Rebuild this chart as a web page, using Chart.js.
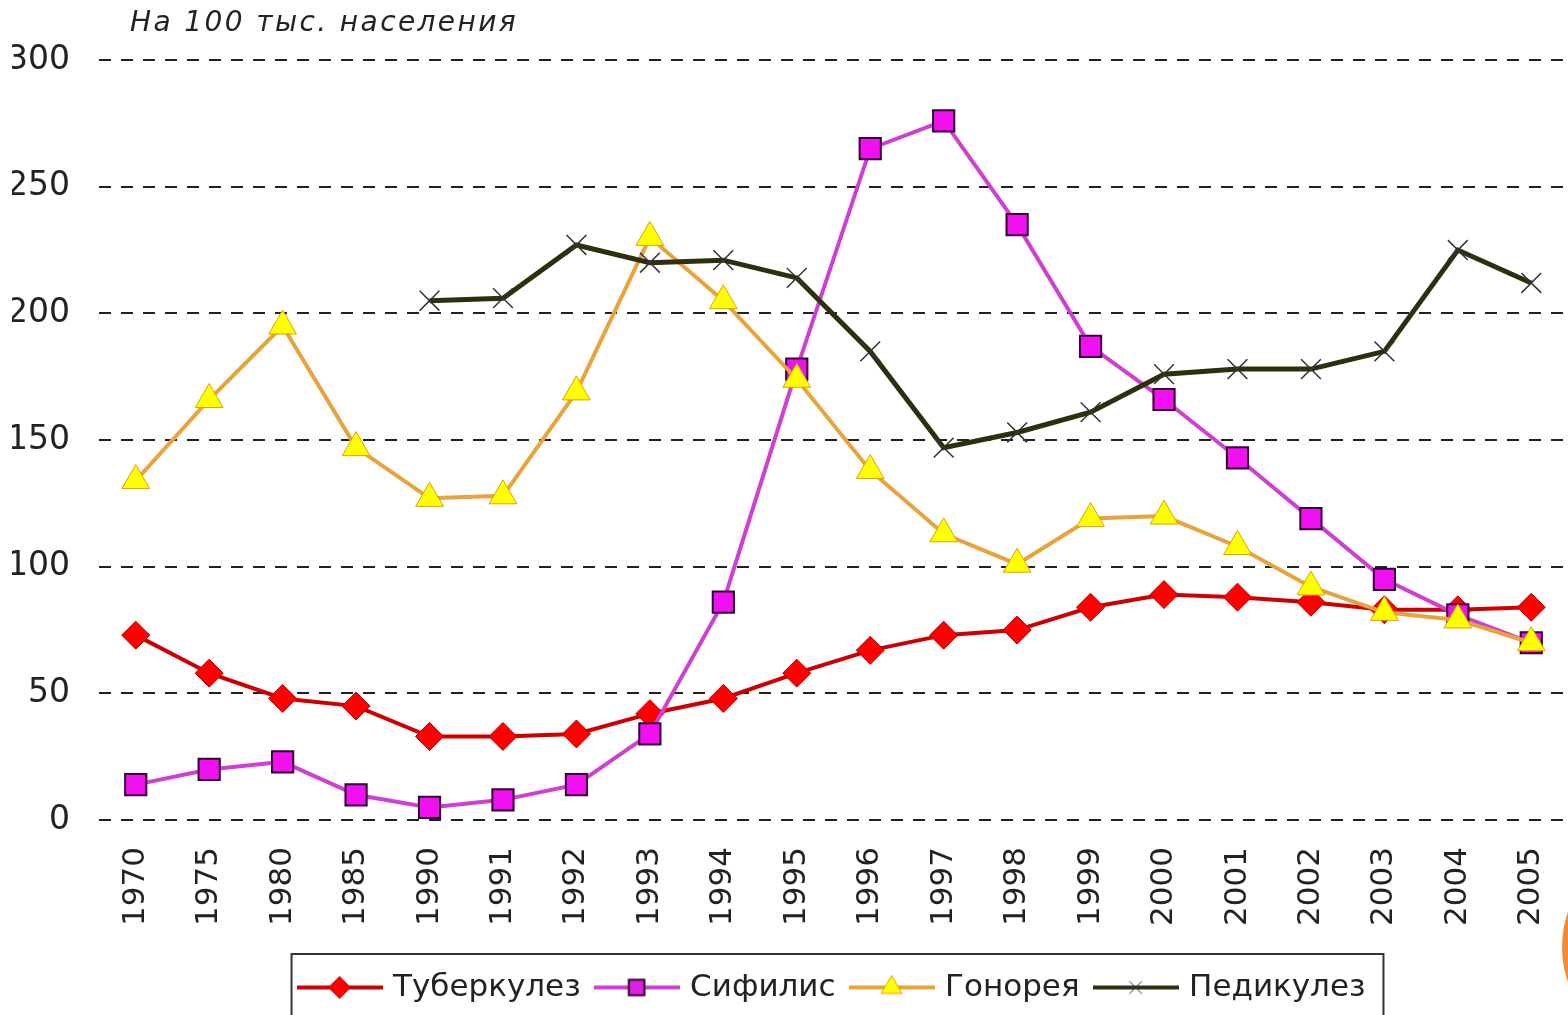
<!DOCTYPE html>
<html>
<head>
<meta charset="utf-8">
<script src="https://cdn.jsdelivr.net/npm/chart.js@4.4.1/dist/chart.umd.min.js"></script>
<style>
body{margin:0;background:#fff;}
#wrap{position:relative;width:1568px;height:1015px;overflow:hidden;}
#dot{position:absolute;left:1562px;top:839px;width:216px;height:216px;border-radius:50%;background:#F58A35;}
</style>
</head>
<body>
<div id="wrap"><canvas id="myChart"></canvas><div id="dot"></div></div>
<script>
// years on the x axis
const years = ['1970','1975','1980','1985','1990','1991','1992','1993','1994','1995',
	'1996','1997','1998','1999','2000','2001','2002','2003','2004','2005'];

// per 100k population
const tuberculosis = [73, 58, 48, 45, 33, 33, 34, 42, 48, 58, 67, 73, 75, 84, 89, 88, 86, 83, 83, 84];
const syphilis     = [14, 20, 23, 10, 5, 8, 14, 34, 86, 178, 265, 276, 235, 187, 166, 143, 119, 95, 81, 70];
const gonorrhea    = [134, 166, 195, 147, 127, 128, 169, 230, 205, 174, 138, 113, 101, 119, 120, 108, 92, 82, 79, 70];
const pediculosis  = [null, null, null, null, 205, 206, 227, 220, 221, 214, 185, 147, 153, 161, 176, 178, 178, 185, 225, 212];

const yTicks = [0, 50, 100, 150, 200, 250, 300];

const FONT = "'DejaVu Sans', sans-serif";

function legendImg(lineColor, style, fill, border, radius, bw){
	let c = document.createElement('canvas');
	c.width = 86; c.height = 30;
	let g = c.getContext('2d');
	g.strokeStyle = lineColor;
	g.lineWidth = 4;
	g.beginPath(); g.moveTo(0, 15); g.lineTo(86, 15); g.stroke();
	g.fillStyle = fill;
	g.strokeStyle = border;
	g.lineWidth = bw;
	Chart.helpers.drawPoint(g, {pointStyle: style, radius: radius, rotation: 0}, 43, 15);
	g.fill();
	if(bw > 0) g.stroke();
	return c;
}

const legendImages = [
	legendImg('#CC0000', 'rectRot', '#FF0000', '#B00000', 11, 1),
	legendImg('#D040D0', 'rect', '#E020E0', '#330033', 11, 2),
	legendImg('#E8A33A', 'triangle', '#FFFF00', '#E0A000', 12, 1),
	legendImg('#2F2F10', 'crossRot', '#2F2F10', '#333', 9, 1)
];

// subtitle above the plot
const subtitlePlugin = {
	id: 'subtitleText',
	afterDraw(chart){
		let ctx = chart.ctx;
		ctx.save();
		ctx.font = "italic 28px " + FONT;
		ctx.letterSpacing = '2.4px';
		ctx.fillStyle = '#222';
		ctx.textBaseline = 'middle';
		ctx.fillText('На 100 тыс. населения', 130, 24);
		ctx.restore();
	}
};

// frame round the legend
const legendBoxPlugin = {
	id: 'legendBox',
	afterDraw(chart){
		let boxes = chart.legend.legendHitBoxes;
		if(!boxes || !boxes.length) return;
		let left = Math.min(...boxes.map(b => b.left)) - 10;
		let right = Math.max(...boxes.map(b => b.left + b.width)) + 18;
		let top = Math.min(...boxes.map(b => b.top)) - 18;
		let bottom = Math.max(...boxes.map(b => b.top + b.height)) + 14;
		let ctx = chart.ctx;
		ctx.save();
		ctx.strokeStyle = '#333';
		ctx.lineWidth = 2;
		ctx.strokeRect(left, top, right - left, bottom - top);
		ctx.restore();
	}
};

var ctx = document.getElementById('myChart');

var myChart = new Chart(ctx, {
	type: 'line',
	data: {
		labels: years,
		datasets: [{
			label: 'Туберкулез',
			data: tuberculosis,
			borderColor: '#CC0000',
			backgroundColor: '#FF0000',
			pointBackgroundColor: '#FF0000',
			pointBorderColor: '#B00000',
			pointStyle: 'rectRot',
			pointRadius: 14,
			pointBorderWidth: 1,
			borderWidth: 4,
			order: 4
		}, {
			label: 'Сифилис',
			data: syphilis,
			borderColor: '#D040D0',
			backgroundColor: '#FF00FF',
			pointBackgroundColor: '#F010F0',
			pointBorderColor: '#330033',
			pointStyle: 'rect',
			pointRadius: 15,
			pointBorderWidth: 2,
			borderWidth: 4,
			order: 3
		}, {
			label: 'Гонорея',
			data: gonorrhea,
			borderColor: '#E8A33A',
			backgroundColor: '#FFFF00',
			pointBackgroundColor: '#FFFF00',
			pointBorderColor: '#E0A000',
			pointStyle: 'triangle',
			pointRadius: 16,
			pointBorderWidth: 1,
			borderWidth: 4,
			order: 2
		}, {
			label: 'Педикулез',
			data: pediculosis,
			borderColor: '#2F2F10',
			backgroundColor: '#2F2F10',
			pointBorderColor: '#333',
			pointStyle: 'crossRot',
			pointRadius: 14,
			pointBorderWidth: 1.5,
			borderWidth: 5,
			order: 1
		}]
	},
	options: {
		responsive: true,
		maintainAspectRatio: false,
		animation: false,
		layout: {autoPadding: false, padding: {top: 60, left: 12, right: 0, bottom: 2}},
		elements: {line: {tension: 0}},
		plugins: {
			title: {display: false},
			tooltip: {enabled: false},
			legend: {
				position: 'bottom',
				fullSize: false,
				labels: {
					usePointStyle: true,
					pointStyleWidth: 76,
					padding: 18,
					color: '#222',
					font: {family: FONT, size: 31},
					generateLabels(chart){
						return chart.data.datasets.map((ds, i) => ({
							text: ds.label,
							pointStyle: legendImages[i],
							fillStyle: 'transparent',
							strokeStyle: 'transparent',
							lineWidth: 0,
							fontColor: '#222',
							datasetIndex: i,
							hidden: false
						}));
					}
				}
			}
		},
		scales: {
			x: {
				offset: true,
				grid: {display: false},
				border: {display: false},
				ticks: {
					color: '#222',
					font: {family: FONT, size: 31},
					minRotation: 90,
					maxRotation: 90,
					padding: 19,
					autoSkip: false
				},
				afterFit(s){ s.paddingRight = 0; s.paddingLeft = 0; s.height += 9; }
			},
			y: {
				min: 0,
				max: 300,
				afterBuildTicks(s){ s.ticks = yTicks.map(v => ({value: v})); },
				grid: {color: '#222', lineWidth: 2, drawTicks: false},
				border: {display: false, dash: [12, 10]},
				ticks: {
					color: '#222',
					font: {family: FONT, size: 33},
					padding: 29
				},
				afterFit(s){ s.width = 87; }
			}
		}
	},
	plugins: [subtitlePlugin, legendBoxPlugin]
});
</script>
</body>
</html>
